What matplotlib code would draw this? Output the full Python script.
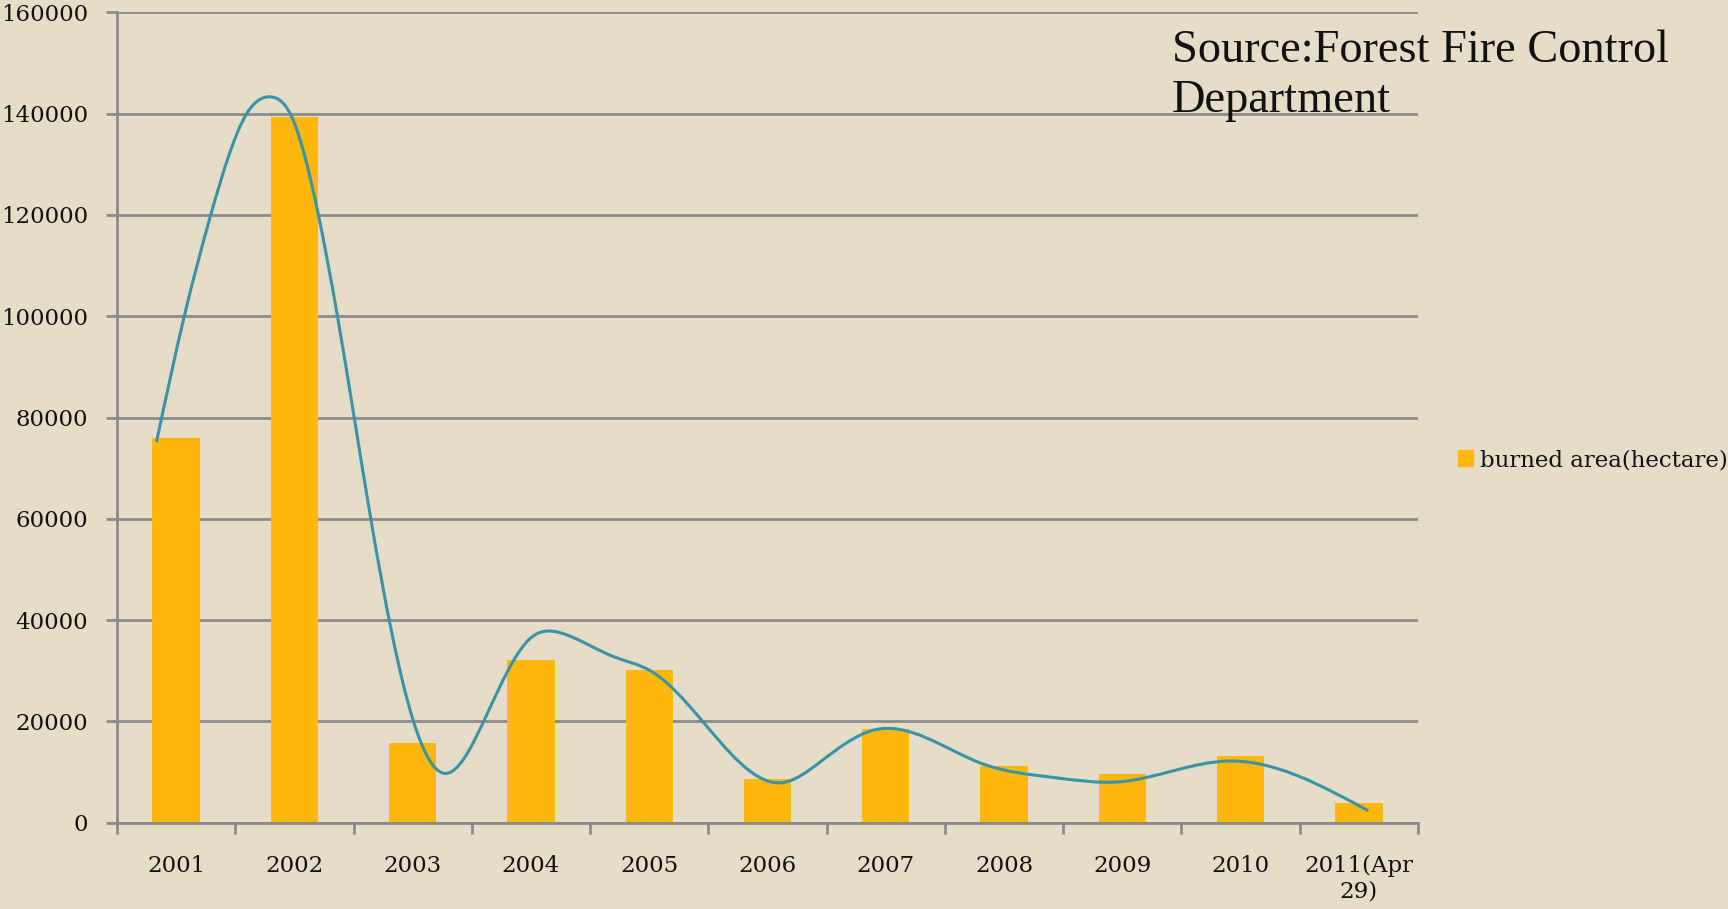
import matplotlib
matplotlib.use("Agg")
import matplotlib.pyplot as plt
from matplotlib.path import Path
from matplotlib.patches import PathPatch, Patch
import numpy as np

years = ["2001", "2002", "2003", "2004", "2005", "2006",
         "2007", "2008", "2009", "2010", "2011(Apr\n29)"]
burned = [76000, 139400, 15700, 32200, 30200, 8600,
          18600, 11200, 9700, 13200, 3800]

# knots of the hand-smoothed trend curve (x in category units)
curve_x = [-0.164, 0.069, 0.293, 0.597, 0.80, 0.964, 1.203, 1.364, 1.646,
           2.007, 2.266, 2.62, 2.994, 3.248, 3.70, 4.009, 4.43, 5.12,
           5.448, 5.90, 6.807, 7.41, 7.985, 8.89, 10.07]
curve_y = [75400, 100000, 120000, 140000, 143300, 140000, 120000, 100000, 60000,
           20000, 9750, 21000, 36400, 37500, 32770, 30010, 20610, 7900,
           12040, 18300, 11730, 8960, 8100, 12180, 2500]

bg = "#E5DDC8"
bar_c = "#FDB70D"
line_c = "#3A93A6"
grid_c = "#8A8A8A"
txt_c = "#111111"
label_font = ["DejaVu Serif"]
title_font = ["Liberation Serif", "DejaVu Serif"]

plt.rcParams['font.family'] = label_font

fig = plt.figure(figsize=(17.28, 9.09), dpi=100)
fig.patch.set_facecolor(bg)
ax = fig.add_axes([0.0677, 0.0949, 0.8206 - 0.0677, 0.9865 - 0.0949])
ax.set_facecolor(bg)

x = np.arange(len(years))
ax.bar(x, burned, width=0.4, color=bar_c, zorder=2)

# natural cubic spline y(x) through the knots, handed to matplotlib
# as cubic bezier segments
kx = np.array(curve_x, float)
ky = np.array(curve_y, float)
n = len(kx)
h = np.diff(kx)
A = np.zeros((n, n))
B = np.zeros(n)
A[0, 0] = A[-1, -1] = 1
for i in range(1, n - 1):
    A[i, i - 1] = h[i - 1]
    A[i, i] = 2 * (h[i - 1] + h[i])
    A[i, i + 1] = h[i]
    B[i] = 6 * ((ky[i + 1] - ky[i]) / h[i] - (ky[i] - ky[i - 1]) / h[i - 1])
M = np.linalg.solve(A, B)
verts = [(kx[0], ky[0])]
codes = [Path.MOVETO]
for i in range(n - 1):
    sl = (ky[i + 1] - ky[i]) / h[i]
    d0 = sl - h[i] * (2 * M[i] + M[i + 1]) / 6
    d1 = sl + h[i] * (M[i] + 2 * M[i + 1]) / 6
    verts += [(kx[i] + h[i] / 3, ky[i] + d0 * h[i] / 3),
              (kx[i + 1] - h[i] / 3, ky[i + 1] - d1 * h[i] / 3),
              (kx[i + 1], ky[i + 1])]
    codes += [Path.CURVE4] * 3
ax.add_patch(PathPatch(Path(verts, codes), fill=False, edgecolor=line_c,
                       linewidth=2.2, zorder=3, capstyle='round'))

ax.set_xlim(-0.5, len(years) - 0.5)
ax.set_ylim(0, 160000)
ax.set_yticks(np.arange(0, 160001, 20000))
ax.grid(axis='y', color=grid_c, linewidth=2, zorder=1)
ax.set_axisbelow(True)

ax.set_xticks(x)
ax.set_xticklabels(years, fontsize=16.5, linespacing=1.2)
ax.set_xticks(np.arange(-0.5, len(years)), minor=True)
ax.tick_params(axis='x', which='major', length=0, pad=23)
ax.tick_params(axis='x', which='minor', length=8, width=2, color=grid_c, direction='out')
ax.tick_params(axis='y', length=8, width=2, color=grid_c, labelsize=16.5, pad=13)
for lab in ax.get_yticklabels() + ax.get_xticklabels():
    lab.set_color(txt_c)

for s in ['top', 'right']:
    ax.spines[s].set_visible(False)
for s in ['left', 'bottom']:
    ax.spines[s].set_color(grid_c)
    ax.spines[s].set_linewidth(2)

fig.text(1172 / 1728, 1 - 30 / 909, "Source:Forest Fire Control\nDepartment",
         fontsize=33.4, va='top', ha='left', linespacing=1.22, color=txt_c,
         family=title_font)

fig.legend(handles=[Patch(color=bar_c, label="burned area(hectare)")],
           loc='center left', bbox_to_anchor=(1458 / 1728, 1 - 460 / 909),
           frameon=False, fontsize=16.5, handlelength=0.65, handleheight=0.65,
           handletextpad=0.3, borderpad=0, borderaxespad=0,
           labelcolor=txt_c)

fig.savefig("out.png", dpi=100, facecolor=bg)
